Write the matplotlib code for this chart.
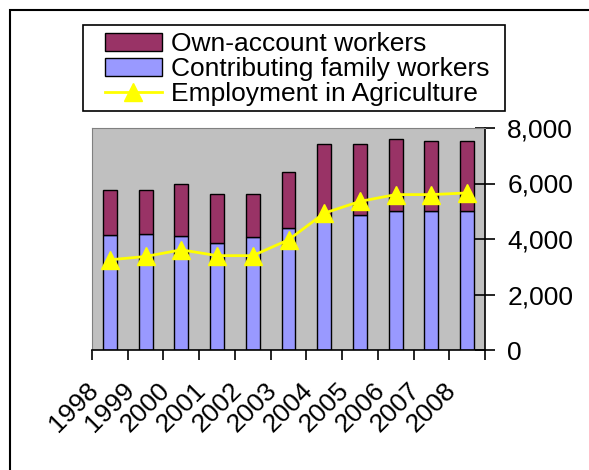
import numpy as np
import matplotlib
matplotlib.use('Agg')
import matplotlib.pyplot as plt
from matplotlib.patches import Patch, Rectangle
from matplotlib.lines import Line2D
from matplotlib.ticker import FuncFormatter
from matplotlib.transforms import ScaledTranslation

plt.rcParams['font.family'] = ['Liberation Sans', 'DejaVu Sans']

# data (thousands of persons)
years = ['1998', '1999', '2000', '2001', '2002', '2003', '2004', '2005', '2006', '2007', '2008']
family_workers = [4130, 4190, 4115, 3850, 4055, 4390, 4650, 4870, 5020, 5020, 5020]
own_account = [1645, 1590, 1855, 1780, 1575, 2010, 2760, 2540, 2580, 2525, 2525]
agriculture = [3250, 3370, 3610, 3400, 3400, 3970, 4930, 5355, 5600, 5600, 5660]

c_own = '#993366'
c_fam = '#9999FF'
c_line = '#FFFF00'

W, H = 589, 470
fig = plt.figure(figsize=(W/100, H/100), dpi=100)
ax = fig.add_axes([92/W, 1-350/H, 393/W, 222/H])
ax.set_facecolor('#C0C0C0')

x = np.arange(len(years))
ax.bar(x, family_workers, width=0.39, color=c_fam, edgecolor='black', linewidth=1)
ax.bar(x, own_account, width=0.39, bottom=family_workers, color=c_own, edgecolor='black', linewidth=1)
ax.plot(x, agriculture, color=c_line, lw=2, marker='^', markersize=13, markeredgecolor=c_line)

ax.set_xlim(-0.5, len(years) - 0.5)
ax.set_ylim(0, 8000)

for s in ['left', 'top']:
    ax.spines[s].set_color('#808080')
for s in ['right', 'bottom']:
    ax.spines[s].set_color('black')
    ax.spines[s].set_linewidth(1.2)

ax.yaxis.tick_right()
ax.set_yticks([0, 2000, 4000, 6000, 8000])
ax.yaxis.set_major_formatter(FuncFormatter(lambda v, p: f'{int(v):,}'))
ax.tick_params(axis='y', direction='inout', length=14, width=1.2, pad=9, labelsize=19)

ax.set_xticks(x)
ax.set_xticks(np.arange(len(years) + 1) - 0.5, minor=True)
ax.set_xticklabels(years, rotation=45, ha='right', va='center', rotation_mode='anchor')
ax.tick_params(axis='x', which='major', length=0, pad=26, labelsize=19)
ax.tick_params(axis='x', which='minor', direction='out', length=7, width=1.2)
off = ScaledTranslation(-0.15, 0, fig.dpi_scale_trans)
for lab in ax.get_xticklabels():
    lab.set_transform(lab.get_transform() + off)

handles = [
    Patch(facecolor=c_own, edgecolor='black', linewidth=1),
    Patch(facecolor=c_fam, edgecolor='black', linewidth=1),
    Line2D([], [], color=c_line, lw=2, marker='^', markersize=13),
]
labels = ['Own-account workers', 'Contributing family workers', 'Employment in Agriculture']
fig.legend(handles, labels, loc='upper left', bbox_to_anchor=(105/W, 1-32/H),
           fontsize=19, frameon=False, borderaxespad=0, borderpad=0,
           handlelength=2.15, handletextpad=0.34, labelspacing=0.04)
# legend box drawn separately to match its padding
fig.add_artist(Rectangle((83/W, 1-111/H), 422/W, 86/H, transform=fig.transFigure,
                         fill=False, edgecolor='black', linewidth=1.2))

# outer chart border, runs off the right and bottom edges
fig.add_artist(Rectangle((10/W, -0.1), 1.2, 1 - 10/H + 0.1, transform=fig.transFigure,
                         fill=False, edgecolor='black', linewidth=1.5, clip_on=False))

fig.savefig('out.png', dpi=100)
